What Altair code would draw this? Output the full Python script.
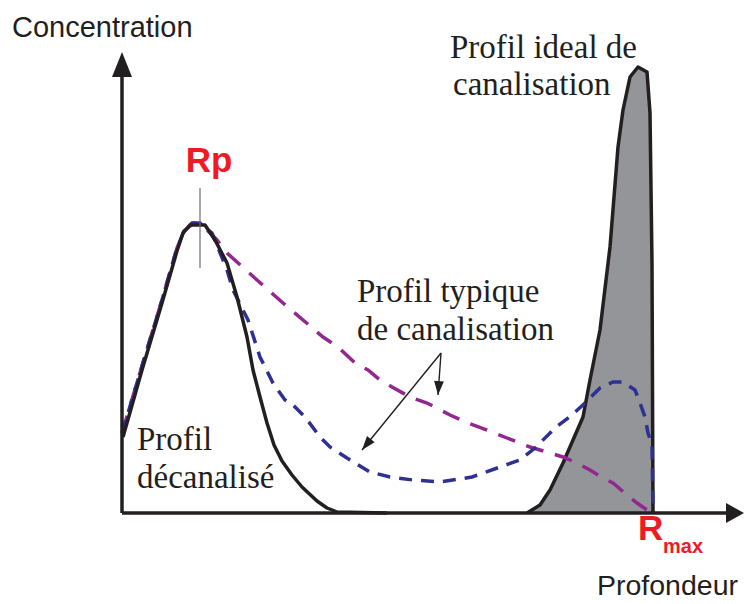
import altair as alt
import pandas as pd

# ---- curve data (depth, concentration) ----
# Profil décanalisé (solid black)
dec_depth = [1, 20, 40, 55, 61, 68, 83, 93, 105, 115, 125, 131, 138, 145, 152, 160, 170, 180, 195, 205, 215, 265]
dec_conc = [76, 143, 210, 262, 280, 288, 288, 273, 250, 216, 176, 143, 116, 90, 68, 52, 38, 26, 12, 5, 1, 0]

# Profil typique de canalisation (blue dashed)
typ_depth = [0, 20, 40, 55, 62, 70, 78, 90, 105, 111, 126, 138, 151, 163, 171, 183, 198, 208, 225,
             248, 268, 291, 318, 350, 378, 398, 413, 433, 450, 463, 478, 491, 501, 513, 518, 523,
             526, 530, 531]
typ_conc = [80, 147, 213, 265, 282, 290, 290, 280, 243, 223, 193, 156, 130, 113, 108, 96, 76, 66, 55,
            41, 36, 33, 31, 36, 46, 53, 65, 85, 98, 110, 125, 131, 131, 123, 110, 96,
            80, 68, 1]

# Second typical profile (purple dashed)
typ2_depth = [0, 20, 40, 55, 62, 72, 80, 95, 105, 135, 161, 181, 201, 216, 233, 246, 258, 270, 288,
              305, 328, 346, 370, 385, 408, 418, 441, 455, 468, 481, 491, 505, 515, 528]
typ2_conc = [80, 147, 213, 265, 282, 290, 288, 273, 260, 233, 210, 193, 176, 166, 150, 143, 133, 126, 116,
             110, 98, 90, 81, 75, 66, 63, 56, 50, 43, 35, 30, 18, 10, 1]

# Profil ideal de canalisation (grey filled)
ideal_depth = [405, 418, 428, 441, 451, 461, 468, 478, 488, 496, 501, 508, 516, 525, 528, 530, 531]
ideal_conc = [0, 8, 23, 50, 73, 96, 133, 183, 266, 366, 403, 436, 446, 441, 400, 250, 0]

# ---- annotation texts ----
label_text = ["Profil ideal de", "canalisation", "Profil typique", "de canalisation",
              "Profil", "décanalisé"]
label_depth = [328, 331, 235, 235, 15, 15]
label_conc = [455, 418, 211, 173, 63, 25]

INK = "#231F20"
RED = "#ED1C24"
BLUE = "#2E3192"
PURPLE = "#92278F"
GREY = "#939598"

X = alt.Scale(domain=[-114, 623], nice=False, zero=False)
Y = alt.Scale(domain=[-91, 505], nice=False, zero=False)


def xy():
    return dict(
        x=alt.X("d:Q", scale=X, axis=None),
        y=alt.Y("c:Q", scale=Y, axis=None, stack=None),
    )


def df(d, c):
    return pd.DataFrame({"d": d, "c": c})


ideal_fill = alt.Chart(df(ideal_depth, ideal_conc)).mark_area(
    fill=GREY, opacity=1, interpolate="linear"
).encode(**xy())
ideal_line = alt.Chart(df(ideal_depth, ideal_conc)).mark_line(
    color=INK, strokeWidth=3.5, strokeJoin="round"
).encode(**xy())
purple = alt.Chart(df(typ2_depth, typ2_conc)).mark_line(
    color=PURPLE, strokeWidth=3.5, strokeDash=[18, 12]
).encode(**xy())
blue = alt.Chart(df(typ_depth, typ_conc)).mark_line(
    color=BLUE, strokeWidth=3.5, strokeDash=[13, 9]
).encode(**xy())
black = alt.Chart(df(dec_depth, dec_conc)).mark_line(
    color=INK, strokeWidth=3.5, strokeJoin="round"
).encode(**xy())

# axes
axes_df = pd.DataFrame({"d": [0, 0], "c": [0, 0], "d2": [0, 606], "c2": [440, 0]})
axes = alt.Chart(axes_df).mark_rule(color=INK, strokeWidth=3.5).encode(
    x2="d2:Q", y2="c2:Q", **xy()
)
yhead = alt.Chart(pd.DataFrame({"d": [0], "c": [461]})).mark_point(
    shape="M0,0L0.8,2L-0.8,2Z", size=625, filled=True, color=INK, opacity=1, angle=0
).encode(**xy())
xhead = alt.Chart(pd.DataFrame({"d": [622], "c": [0]})).mark_point(
    shape="M0,0L1.1,2L-1.1,2Z", size=324, filled=True, color=INK, opacity=1, angle=90
).encode(**xy())

# Rp marker line
rp_line = alt.Chart(pd.DataFrame({"d": [78], "c": [245], "c2": [325]})).mark_rule(
    color="#6D6E71", strokeWidth=1.2
).encode(y2="c2:Q", **xy())

# pointer arrows
ptr_df = pd.DataFrame({"d": [319, 319], "c": [160, 160], "d2": [316, 240], "c2": [118, 63]})
ptr = alt.Chart(ptr_df).mark_rule(color=INK, strokeWidth=1.4).encode(
    x2="d2:Q", y2="c2:Q", **xy()
)
heads_df = pd.DataFrame({"d": [316, 240], "c": [118, 63], "a": [184, 219]})
heads = alt.Chart(heads_df).mark_point(
    shape="M0,0L0.7,2L-0.7,2Z", size=196, filled=True, color=INK, opacity=1
).encode(angle=alt.Angle("a:Q", scale=None), **xy())

# texts
labels = alt.Chart(pd.DataFrame({"d": label_depth, "c": label_conc, "t": label_text})).mark_text(
    font="Liberation Serif", fontSize=33, color=INK, align="left", baseline="alphabetic"
).encode(text="t:N", **xy())


def txt(t, d, c, **kw):
    return alt.Chart(pd.DataFrame({"d": [d], "c": [c], "t": [t]})).mark_text(
        baseline="alphabetic", **kw
    ).encode(text="t:N", **xy())


t_conc = txt("Concentration", -110, 476, font="Liberation Sans", fontSize=29, color=INK, align="left")
t_prof = txt("Profondeur", 475, -82, font="Liberation Sans", fontSize=28.5, color=INK, align="left")
t_rp = txt("Rp", 87, 341, font="Liberation Sans", fontSize=35, fontWeight="bold", color=RED, align="center")
t_r = txt("R", 516, -27, font="Liberation Sans", fontSize=35, fontWeight="bold", color=RED, align="left")
t_max = txt("max", 541, -40, font="Liberation Sans", fontSize=20, fontWeight="bold", color=RED, align="left")

chart = alt.layer(
    ideal_fill, ideal_line, purple, blue, black, axes, yhead, xhead, rp_line, ptr, heads,
    labels, t_conc, t_prof, t_rp, t_r, t_max,
).properties(
    width=737, height=596, autosize=alt.AutoSizeParams(type="none"), padding=0
).configure_view(stroke=None)

chart.save("out.html", embed_options={"renderer": "svg", "actions": False})
